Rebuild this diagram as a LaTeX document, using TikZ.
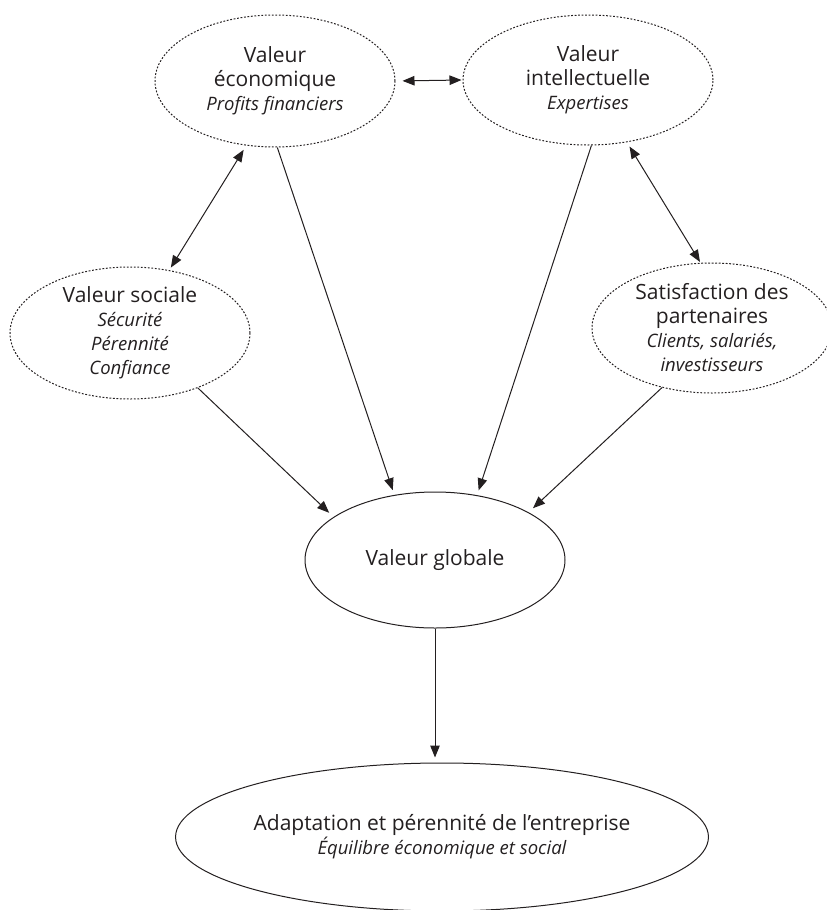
\documentclass[tikz,border=0pt]{standalone}
\usepackage{fontspec}
\setmainfont{Open Sans}
\usetikzlibrary{shapes.geometric,arrows.meta}
\definecolor{ink}{HTML}{231F20}
\newcommand{\subline}[1]{{\itshape\fontsize{18.5}{21.5}\selectfont #1}}
\begin{document}
\begin{tikzpicture}[x=1pt,y=-1pt,
  txt/.style={inner sep=0pt, align=center, text=ink,
    font=\fontsize{21}{24}\selectfont},
  bubble/.style={txt, ellipse, draw=ink, line width=1pt,
    dash pattern=on 1.8pt off 1.7pt},
  hub/.style={txt, ellipse, draw=ink, line width=1pt},
  link/.style={draw=ink, line width=1pt, -{Triangle[length=12pt,width=9.5pt]}},
  twoway/.style={draw=ink, line width=1pt,
    {Triangle[length=12pt,width=9.5pt]}-{Triangle[length=12pt,width=9.5pt]}}
]
\useasboundingbox (0,0) rectangle (827,910);
\clip (0,0) rectangle (827,910);

% value ellipses
\node[bubble, minimum width=240pt, minimum height=132pt] (eco) at (275,81)
  {Valeur\\économique\\\subline{Profits financiers}};
\node[bubble, minimum width=250pt, minimum height=130pt] (int) at (588,80)
  {Valeur\\intellectuelle\\\subline{Expertises}};
\node[bubble, minimum width=240pt, minimum height=132pt] (soc) at (130,333)
  {Valeur sociale\\\subline{Sécurité}\\\subline{Pérennité}\\\subline{Confiance}};
\node[bubble, minimum width=240pt, minimum height=130pt] (sat) at (712,328)
  {Satisfaction des\\partenaires\\\subline{Clients, salariés,}\\\subline{investisseurs}};

% global value and outcome
\node[hub, minimum width=260pt, minimum height=136pt] (glo) at (435,560)
  {Valeur globale};
\node[hub, minimum width=524pt, minimum height=148pt] (ada) at (442,837)
  {Adaptation et pérennité de l’entreprise\\\subline{Équilibre économique et social}};

% mutual links
\draw[twoway, shorten <=7pt, shorten >=1pt] (eco.east) -- (int.west);
\draw[twoway, shorten <=5pt, shorten >=3pt] (eco.-114) -- (soc.58);
\draw[twoway, shorten <=5pt, shorten >=1pt] (int.-58) -- (sat.100);

% contributions to global value
\draw[link, shorten >=5pt] (eco.-88) -- (glo.122);
\draw[link, shorten >=5pt] (int.-87) -- (glo.57);
\draw[link, shorten >=6pt] (soc.-39) -- (glo.157);
\draw[link, shorten >=6pt] (sat.-130) -- (glo.27);

% outcome
\draw[link, shorten >=5pt] (glo.south) -- (glo.south |- ada.north);
\end{tikzpicture}
\end{document}
